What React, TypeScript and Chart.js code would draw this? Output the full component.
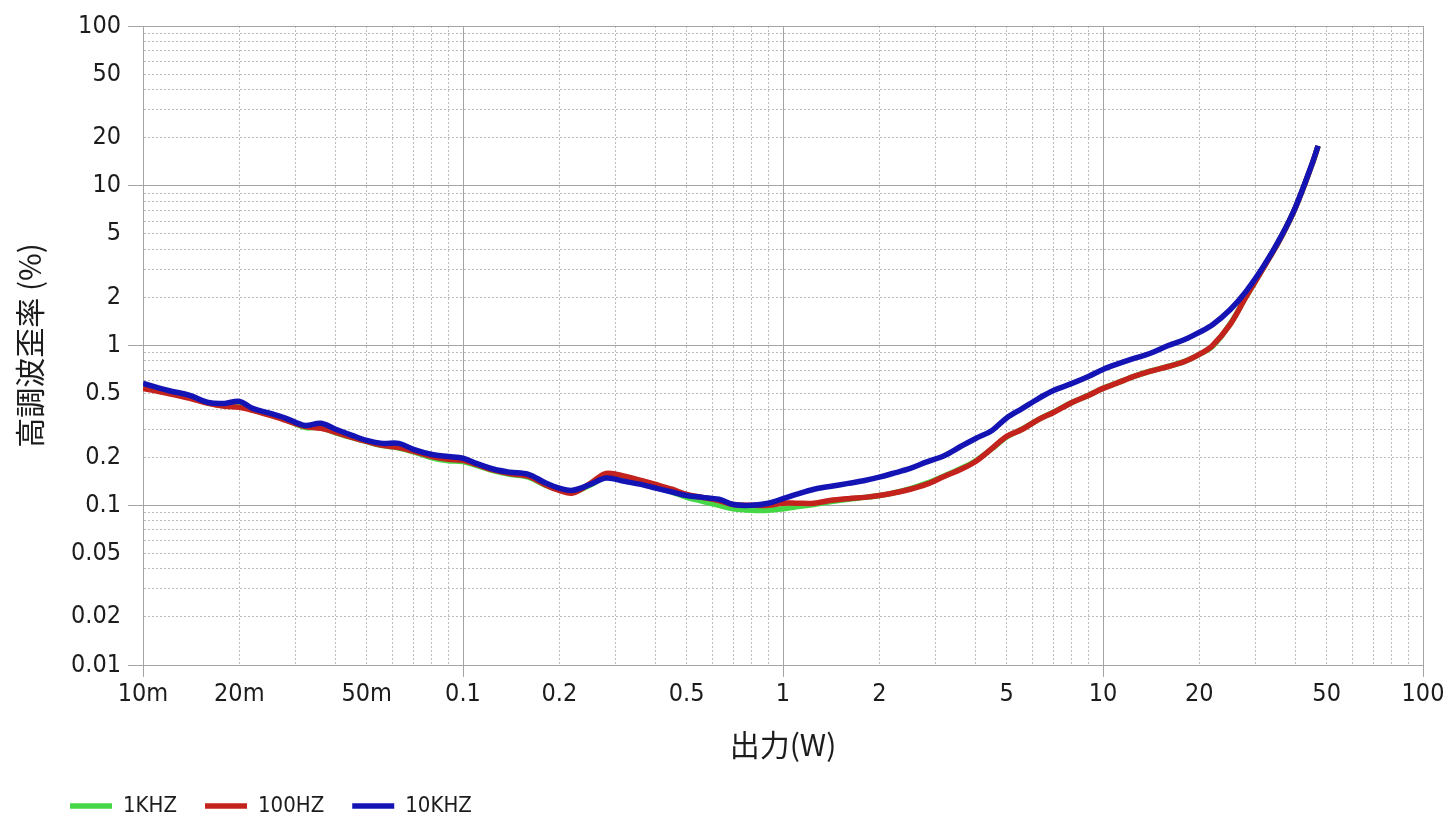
import React, { useEffect, useRef } from "react";
import { Chart, registerables } from "chart.js";

Chart.register(...registerables);

// Output power (W)
const outputW = [
  0.01, 0.012, 0.014, 0.016, 0.018, 0.02, 0.022, 0.025, 0.028, 0.032, 0.036, 0.04, 0.045, 0.05, 0.056, 0.063, 0.07, 0.08, 0.09,
  0.1, 0.11, 0.125, 0.14, 0.16, 0.18, 0.2, 0.22, 0.25, 0.28, 0.32, 0.36, 0.4, 0.45, 0.5, 0.56, 0.63, 0.7, 0.8, 0.9,
  1.0, 1.1, 1.25, 1.4, 1.6, 1.8, 2.0, 2.2, 2.5, 2.8, 3.2, 3.6, 4.0, 4.5, 5.0, 5.6, 6.3, 7.0, 8.0, 9.0,
  10, 11, 12.5, 14, 16, 18, 20, 22, 25, 28, 32, 36, 40, 45, 47,
];

// THD (%) per test frequency
const thd1kHz = [
  0.55, 0.51, 0.475, 0.436, 0.42, 0.425, 0.395, 0.368, 0.342, 0.308, 0.305, 0.284, 0.265, 0.25, 0.236, 0.228, 0.216, 0.198, 0.19,
  0.188, 0.178, 0.164, 0.156, 0.15, 0.134, 0.125, 0.121, 0.134, 0.15, 0.145, 0.138, 0.13, 0.121, 0.112, 0.106, 0.1, 0.095, 0.093, 0.093,
  0.095, 0.098, 0.101, 0.105, 0.109, 0.112, 0.115, 0.119, 0.127, 0.137, 0.153, 0.17, 0.19, 0.226, 0.268, 0.3, 0.345, 0.383, 0.44, 0.488,
  0.54, 0.58, 0.64, 0.69, 0.74, 0.795, 0.88, 0.99, 1.37, 2.02, 3.15, 4.75, 7.35, 13.6, 17.7,
];
const thd100Hz = [
  0.539, 0.501, 0.467, 0.434, 0.416, 0.41, 0.393, 0.365, 0.34, 0.312, 0.303, 0.286, 0.266, 0.251, 0.237, 0.23, 0.218, 0.202, 0.194,
  0.191, 0.18, 0.166, 0.158, 0.152, 0.135, 0.124, 0.119, 0.137, 0.158, 0.152, 0.143, 0.135, 0.126, 0.117, 0.112, 0.107, 0.101, 0.1, 0.1,
  0.103, 0.103, 0.103, 0.107, 0.11, 0.112, 0.115, 0.119, 0.126, 0.135, 0.152, 0.168, 0.188, 0.227, 0.27, 0.299, 0.345, 0.381, 0.44, 0.487,
  0.539, 0.579, 0.64, 0.688, 0.739, 0.794, 0.879, 1.0, 1.36, 2.02, 3.15, 4.75, 7.35, 13.6, 17.7,
];
const thd10kHz = [
  0.579, 0.523, 0.487, 0.44, 0.434, 0.447, 0.404, 0.376, 0.35, 0.316, 0.326, 0.299, 0.274, 0.255, 0.244, 0.244, 0.224, 0.208, 0.202,
  0.197, 0.183, 0.168, 0.161, 0.156, 0.139, 0.128, 0.124, 0.135, 0.148, 0.141, 0.135, 0.128, 0.121, 0.115, 0.112, 0.109, 0.101, 0.1, 0.103,
  0.11, 0.117, 0.126, 0.131, 0.137, 0.143, 0.15, 0.158, 0.17, 0.186, 0.205, 0.234, 0.262, 0.294, 0.352, 0.404, 0.467, 0.523, 0.579, 0.64,
  0.708, 0.761, 0.83, 0.891, 1.0, 1.09, 1.21, 1.35, 1.68, 2.18, 3.21, 4.8, 7.39, 13.7, 17.8,
];

const seriesLabels = ["1KHZ", "100HZ", "10KHZ"];
const seriesColors = ["#46d746", "#c4221c", "#1414b4"];

// Tick labels
const xTickValues = [0.01, 0.02, 0.05, 0.1, 0.2, 0.5, 1, 2, 5, 10, 20, 50, 100];
const xTickLabels = ["10m", "20m", "50m", "0.1", "0.2", "0.5", "1", "2", "5", "10", "20", "50", "100"];
const yTickValues = [0.01, 0.02, 0.05, 0.1, 0.2, 0.5, 1, 2, 5, 10, 20, 50, 100];
const yTickLabels = ["0.01", "0.02", "0.05", "0.1", "0.2", "0.5", "1", "2", "5", "10", "20", "50", "100"];

const decades = [0.01, 0.1, 1, 10];
const mantissas = [1, 2, 3, 4, 5, 6, 7, 8, 9];

const xTitle = "出力(W)";
const yTitle = "高調波歪率 (%)";

const FONT = "'Liberation Sans Narrow', 'DejaVu Sans Condensed', 'Liberation Sans', Arial, sans-serif";
const CJK = "'Noto Sans CJK JP', 'Liberation Sans Narrow', sans-serif";

const gridValues: number[] = [];
decades.forEach((d) => mantissas.forEach((m) => gridValues.push(+(d * m).toPrecision(3))));
gridValues.push(100);

const isMajor = (v: number | undefined) => {
  if (v === undefined || v === null) return true;
  const l = Math.log10(v);
  return Math.abs(l - Math.round(l)) < 1e-6;
};

const labelFor = (vals: number[], labels: string[], v: number) => {
  const i = vals.findIndex((t) => Math.abs(Math.log10(t) - Math.log10(v)) < 1e-6);
  return i >= 0 ? labels[i] : "";
};

const MAJOR = "#a4a4a4";
const MINOR = "#bcbcbc";

export default function App() {
  const ref = useRef<HTMLCanvasElement | null>(null);

  useEffect(() => {
    document.body.style.margin = "0";
    const canvas = ref.current;
    if (!canvas) return;

    const series = [thd1kHz, thd100Hz, thd10kHz];
    const datasets = series.map((s, k) => ({
      label: seriesLabels[k],
      data: outputW.map((x, i) => ({ x, y: s[i] })),
      borderColor: seriesColors[k],
      backgroundColor: seriesColors[k],
      borderWidth: 5.5,
      pointRadius: 0,
      tension: 0.35,
      order: 2 - k,
    }));

    const legendShift = {
      id: "legendShift",
      afterLayout(chart: any) {
        const lg = chart.legend;
        if (!lg) return;
        const h = lg.height;
        lg.left = 42;
        lg.right = 42 + 900;
        lg.width = 900;
        lg.top = 767;
        lg.bottom = 767 + h;
      },
    };

    const gridOpts = {
      color: (ctx: any) => (isMajor(ctx.tick?.value) ? MAJOR : MINOR),
      tickColor: (ctx: any) => (isMajor(ctx.tick?.value) ? MAJOR : "rgba(0,0,0,0)"),
      lineWidth: 1,
    };
    const borderOpts = {
      display: true,
      color: MAJOR,
      dash: (ctx: any) => (ctx && ctx.tick && !isMajor(ctx.tick.value) ? [2, 2] : []),
    };

    let chart: any;
    try {
      chart = new Chart(canvas, {
        type: "line",
        data: { datasets },
        plugins: [legendShift],
        options: {
          animation: false,
          responsive: false,
          layout: { padding: { left: 0, right: 28, top: 26, bottom: 7 } },
          scales: {
            x: {
              type: "logarithmic",
              min: 0.01,
              max: 100,
              afterBuildTicks: (scale: any) => {
                scale.ticks = gridValues.map((v) => ({ value: v }));
              },
              afterFit: (scale: any) => {
                scale.height = 98;
              },
              ticks: {
                autoSkip: false,
                maxRotation: 0,
                padding: 2,
                color: "#1c1c1c",
                font: { family: FONT, size: 25 },
                callback: (v: any) => labelFor(xTickValues, xTickLabels, Number(v)),
              },
              grid: { ...gridOpts, tickLength: 12 },
              border: borderOpts,
              title: {
                display: true,
                text: xTitle,
                color: "#1c1c1c",
                font: { family: CJK, size: 30 },
                padding: { top: 0, bottom: 0 },
              },
            },
            y: {
              type: "logarithmic",
              min: 0.01,
              max: 100,
              afterBuildTicks: (scale: any) => {
                scale.ticks = gridValues.map((v) => ({ value: v }));
              },
              afterFit: (scale: any) => {
                scale.width = 143;
              },
              ticks: {
                autoSkip: false,
                padding: 7,
                color: "#1c1c1c",
                font: { family: FONT, size: 25 },
                callback: (v: any) => labelFor(yTickValues, yTickLabels, Number(v)),
              },
              grid: { ...gridOpts, tickLength: 15 },
              border: borderOpts,
              title: {
                display: true,
                text: yTitle,
                color: "#1c1c1c",
                font: { family: CJK, size: 30 },
                padding: { top: 12, bottom: 0 },
              },
            },
          },
          plugins: {
            legend: {
              position: "bottom",
              align: "start",
              labels: {
                usePointStyle: true,
                pointStyle: "line",
                pointStyleWidth: 42,
                padding: 28,
                color: "#1c1c1c",
                font: { family: FONT, size: 22 },
                sort: (a: any, b: any) => a.datasetIndex - b.datasetIndex,
              },
            },
            tooltip: { enabled: false },
          },
        },
      } as any);
    } catch (e) {
      console.error(e);
    }

    return () => chart && chart.destroy();
  }, []);

  return (
    <div style={{ position: "absolute", left: 0, top: 0, width: 1451, height: 830, background: "#fff" }}>
      <canvas ref={ref} width={1451} height={830} />
    </div>
  );
}
